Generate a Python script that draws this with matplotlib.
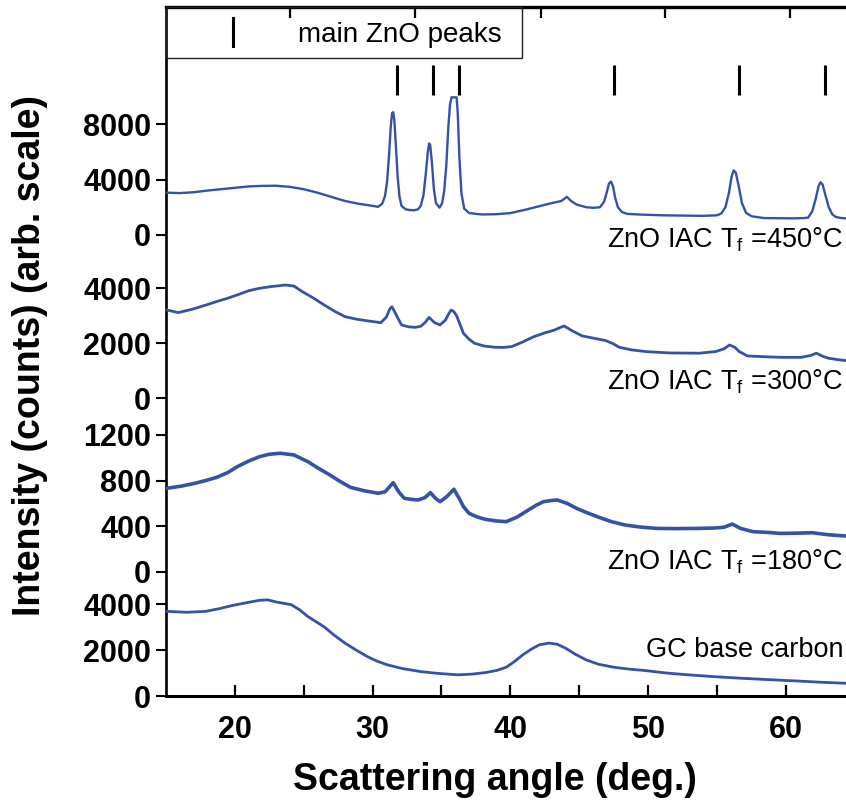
import matplotlib
matplotlib.use("Agg")
import matplotlib.pyplot as plt
from matplotlib.patches import Rectangle

plt.rcParams['font.family'] = ['Liberation Sans', 'DejaVu Sans']
plt.rcParams['mathtext.fontset'] = 'custom'
plt.rcParams['mathtext.rm'] = 'Liberation Sans'

# ---------------- data ----------------
x450 = [15.1, 16.0, 17.0, 18.0, 19.0, 20.0, 21.0, 22.0, 23.0, 24.0, 25.0, 26.0, 27.0, 28.0,
        29.0, 30.0, 30.4, 30.7, 30.9, 31.05, 31.2, 31.32, 31.42, 31.5, 31.58, 31.7, 31.82,
        31.95, 32.1, 32.4, 32.7, 33.0, 33.3, 33.5, 33.7, 33.85, 34.0, 34.1, 34.18, 34.3,
        34.45, 34.6, 34.86, 35.05, 35.2, 35.35, 35.5, 35.62, 35.73, 36.1, 36.18, 36.3, 36.45,
        36.65, 37.0, 37.5, 38.0, 39.0, 40.0, 41.0, 42.0, 43.0, 43.7, 44.1, 44.4, 44.8, 45.5,
        46.0, 46.5, 46.8, 47.0, 47.15, 47.3, 47.45, 47.6, 47.8, 48.1, 48.5, 49.5, 51.0, 52.5,
        54.0, 55.0, 55.3, 55.6, 55.85, 56.05, 56.2, 56.35, 56.55, 56.8, 57.1, 57.5, 58.4,
        59.5, 60.5, 61.3, 61.6, 61.9, 62.15, 62.35, 62.5, 62.65, 62.85, 63.1, 63.35, 63.6,
        64.0, 64.35]
y450 = [3050, 3020, 3080, 3200, 3300, 3400, 3500, 3540, 3550, 3470, 3300, 3050, 2750, 2450,
        2250, 2100, 2030, 2250, 2800, 3800, 5800, 7800, 8800, 8850, 8300, 6300, 4200,
        2800, 2100, 1850, 1800, 1780, 1850, 2100, 2900, 4300, 5900, 6600, 6500, 5300,
        3300, 2300, 1970, 2300, 3200, 5000, 7800, 9400, 9920, 9920, 8800, 5600, 3000,
        1900, 1590, 1520, 1480, 1500, 1580, 1800, 2050, 2300, 2450, 2750, 2450, 2200, 2000,
        1960, 2000, 2400, 3100, 3700, 3850, 3500, 2700, 2000, 1650, 1520, 1470, 1420, 1400,
        1380, 1420, 1550, 2000, 3000, 4200, 4650, 4500, 3600, 2300, 1600, 1350, 1220,
        1210, 1200, 1220, 1250, 1700, 2600, 3500, 3800, 3650, 2900, 2000, 1500, 1300,
        1220, 1200]

x300 = [15.1, 15.9, 17.0, 17.9, 18.7, 19.5, 20.3, 21.0, 21.8, 22.6, 23.7, 24.3, 24.9, 25.7,
        26.5, 27.3, 28.0, 28.8, 29.6, 30.6, 31.0, 31.25, 31.4, 31.6, 31.8, 32.1, 32.6, 33.1,
        33.5, 33.8, 34.1, 34.5, 34.9, 35.3, 35.5, 35.7, 35.9, 36.1, 36.6, 37.0, 37.4, 38.1,
        38.9, 39.5, 40.1, 40.9, 41.7, 42.5, 43.2, 43.6, 43.9, 44.5, 45.2, 46.1, 46.9, 47.4,
        47.9, 48.8, 49.8, 51.5, 53.7, 54.9, 55.5, 55.9, 56.3, 56.6, 57.2, 58.5, 59.6, 61.1,
        61.8, 62.2, 62.7, 63.1, 63.7, 64.35]
y300 = [3210, 3115, 3250, 3390, 3520, 3640, 3780, 3910, 4000, 4060, 4120, 4080, 3880, 3650,
        3390, 3150, 2970, 2880, 2820, 2750, 2950, 3250, 3330, 3150, 2950, 2670, 2600, 2580,
        2620, 2750, 2940, 2750, 2670, 2850, 3050, 3210, 3150, 3000, 2360, 2150, 2000, 1900,
        1855, 1850, 1880, 2050, 2240, 2380, 2480, 2570, 2630, 2450, 2270, 2180, 2100, 2000,
        1855, 1760, 1700, 1650, 1640, 1700, 1800, 1940, 1850, 1700, 1540, 1510, 1490, 1490,
        1560, 1640, 1520, 1455, 1410, 1370]

x180 = [15.1, 16.1, 17.1, 17.9, 18.7, 19.5, 20.2, 21.0, 21.8, 22.5, 23.3, 24.3, 25.3, 26.1,
        26.9, 27.6, 28.4, 29.4, 30.4, 30.9, 31.2, 31.5, 31.9, 32.3, 32.8, 33.3, 33.8, 34.2,
        34.6, 34.9, 35.4, 35.9, 36.3, 36.6, 37.0, 37.6, 38.2, 39.0, 39.7, 40.5, 41.3, 41.9,
        42.4, 43.0, 43.4, 44.1, 44.8, 45.5, 46.3, 47.3, 48.3, 49.4, 50.6, 52.0, 53.7, 54.8,
        55.5, 56.1, 56.7, 57.6, 58.6, 59.6, 60.8, 61.9, 63.0, 64.35]
y180 = [732, 750, 775, 800, 828, 870, 922, 970, 1009, 1030, 1039, 1024, 966, 905,
        849, 795, 740, 710, 688, 700, 740, 781, 700, 644, 635, 629, 650, 693,
        640, 614, 660, 723, 640, 570, 512, 480, 459, 445, 439, 480, 541, 585,
        614, 625, 629, 600, 556, 520, 483, 440, 410, 392, 380, 378, 380, 383,
        390, 418, 380, 351, 345, 336, 338, 342, 325, 313]

xgc = [15.1, 16.5, 17.9, 18.9, 19.8, 20.8, 21.8, 22.4, 23.0, 24.1, 24.7, 25.3, 26.5, 27.2,
       28.0, 28.8, 29.6, 30.3, 31.1, 32.2, 33.5, 34.8, 36.2, 37.2, 38.2, 39.0, 39.7, 40.3,
       40.9, 41.5, 42.1, 42.8, 43.4, 44.0, 44.7, 45.5, 46.4, 47.5, 48.6, 49.8, 51.3, 52.9,
       54.8, 56.8, 58.8, 60.7, 62.5, 64.35]
ygc = [3680, 3640, 3680, 3800, 3930, 4050, 4160, 4180, 4090, 3970, 3750, 3460, 3000, 2650,
       2300, 2000, 1720, 1520, 1350, 1190, 1060, 980, 920, 950, 1020, 1110, 1250, 1500,
       1790, 2030, 2225, 2300, 2250, 2080, 1820, 1570, 1380, 1250, 1170, 1105, 1000, 920,
       840, 770, 710, 655, 600, 553]

zno_peaks = [31.77, 34.42, 36.25, 47.54, 56.60, 62.86]
zno_mark_range = [10090, 12250]
legend_label = "main ZnO peaks"

series_labels = [r"ZnO IAC T$_{\mathrm{f}}$ =450°C",
                 r"ZnO IAC T$_{\mathrm{f}}$ =300°C",
                 r"ZnO IAC T$_{\mathrm{f}}$ =180°C",
                 "GC base carbon"]
yticks_450 = [0, 4000, 8000]
yticks_300 = [0, 2000, 4000]
yticks_180 = [0, 400, 800, 1200]
yticks_gc = [0, 2000, 4000]
xticks_major = [20, 30, 40, 50, 60]
xticks_minor = [25, 35, 45, 55]
top_ticks = [24.0, 33.1, 42.2, 51.2, 60.3]
xlabel = "Scattering angle (deg.)"
ylabel = "Intensity (counts) (arb. scale)"

# ---------------- layout ----------------
W, H = 846, 806
fig = plt.figure(figsize=(W / 100, H / 100), dpi=100)
XL, XR = 165.8, 846.0
XMIN, XMAX = 15.0, 64.35
color = '#3453A8'


def fy(y):
    return 1 - y / H


# frame axes (spines, x ticks)
frame = fig.add_axes([XL / W, fy(696), (XR - XL) / W, (696 - 7) / H])
frame.set_xlim(XMIN, XMAX)
frame.set_ylim(0, 1)
frame.patch.set_alpha(0)
frame.spines['right'].set_visible(False)
frame.spines['left'].set_linewidth(1.9)
frame.spines['bottom'].set_linewidth(2.2)
frame.spines['top'].set_linewidth(2.4)
frame.set_yticks([])
frame.set_xticks(xticks_major)
frame.set_xticks(xticks_minor, minor=True)
frame.set_xticklabels([str(v) for v in xticks_major])
frame.tick_params(axis='x', which='both', direction='in', length=8, width=1.6,
                  pad=14, labelsize=22)
for lab in frame.get_xticklabels():
    lab.set_fontweight('bold')

top = frame.twiny()
top.set_xlim(XMIN, XMAX)
top.set_xticks(top_ticks)
top.tick_params(axis='x', direction='in', length=8, width=1.6, labeltop=False)
for s in top.spines.values():
    s.set_visible(False)
top.set_yticks([])

# panels: (top_px, bottom_px, zero_px, px per unit)
panels = [
    (7, 258, 235.0, 55.5 / 4000, x450, y450, yticks_450, 1.7),
    (258, 415, 398.3, 55.0 / 2000, x300, y300, yticks_300, 2.0),
    (415, 588, 571.7, 45.6 / 400, x180, y180, yticks_180, 2.6),
    (588, 696, 696.0, 46.0 / 2000, xgc, ygc, yticks_gc, 2.0),
]
axes = []
for (t, b, z, ppu, xs, ys, yt, lw) in panels:
    ax = fig.add_axes([XL / W, fy(b), (XR - XL) / W, (b - t) / H], sharex=frame)
    ax.patch.set_alpha(0)
    for s in ax.spines.values():
        s.set_visible(False)
    ax.set_ylim(-(b - z) / ppu, (z - t) / ppu)
    ax.plot(xs, ys, color=color, lw=lw, solid_joinstyle='round')
    ax.set_yticks(yt)
    ax.set_yticklabels([str(v) for v in yt])
    ax.tick_params(axis='y', direction='out', length=7.5, width=1.5, pad=3, labelsize=22)
    ax.tick_params(axis='x', which='both', bottom=False, labelbottom=False)
    for lab in ax.get_yticklabels():
        lab.set_fontweight('bold')
    axes.append(ax)

ax1 = axes[0]
ax1.vlines(zno_peaks, zno_mark_range[0], zno_mark_range[1], color='black', lw=2.2)
# legend box
h_frac = 51 / 251
ax1.add_patch(Rectangle((0, 1 - h_frac), 0.5237, h_frac, transform=ax1.transAxes,
                        fill=False, edgecolor='#222222', lw=1.0, clip_on=False))
ax1.plot([0.0988, 0.0988], [0.956, 0.843], transform=ax1.transAxes, color='black', lw=2.2)
ax1.text(0.195, 0.861, legend_label, transform=ax1.transAxes, fontsize=20,
         ha='left', va='baseline')

# series labels
label_y = [247, 390, 570, 657]
for lab, yb in zip(series_labels, label_y):
    fig.text(843 / W, fy(yb), lab, fontsize=19.5, ha='right', va='baseline')

fig.text(495 / W, fy(790), xlabel, fontsize=27, fontweight='bold', ha='center', va='baseline')
fig.text(30 / W, fy(356), ylabel, fontsize=27, fontweight='bold', ha='center', va='center',
         rotation=90)

fig.savefig('out.png', dpi=100)
